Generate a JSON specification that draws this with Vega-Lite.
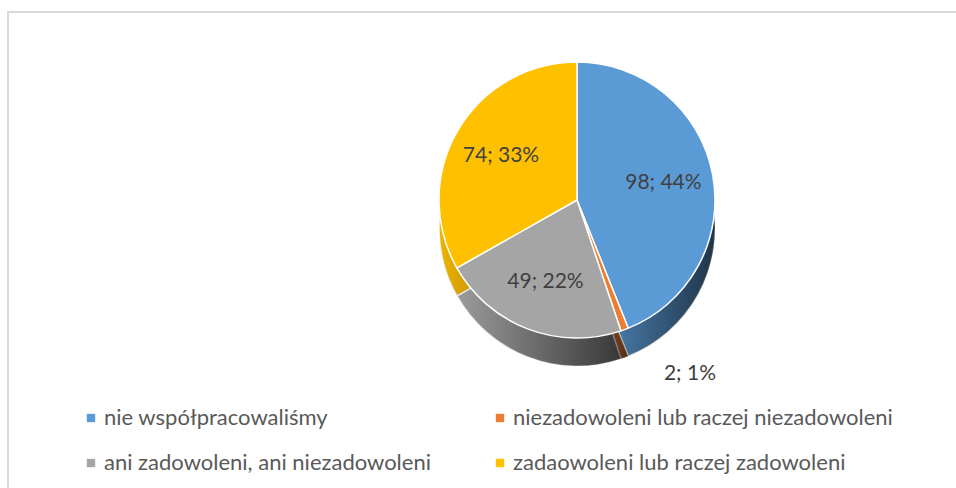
{
  "$schema": "https://vega.github.io/schema/vega-lite/v6.json",
  "width": 948,
  "height": 476,
  "autosize": "none",
  "padding": {"left": 8, "top": 12, "right": 0, "bottom": 0},
  "background": "white",
  "config": {
    "view": {"stroke": null},
    "font": "Lato"
  },
  "data": {
    "values": [
      {"idx": 1, "kategoria": "nie współpracowaliśmy", "liczba": 98, "label": "98; 44%"},
      {"idx": 2, "kategoria": "niezadowoleni lub raczej niezadowoleni", "liczba": 2, "label": "2; 1%"},
      {"idx": 3, "kategoria": "ani zadowoleni, ani niezadowoleni", "liczba": 49, "label": "49; 22%"},
      {"idx": 4, "kategoria": "zadaowoleni lub raczej zadowoleni", "liczba": 74, "label": "74; 33%"}
    ]
  },
  "layer": [
    {
      "data": {"values": [{"ramka": "obramowanie"}]},
      "mark": {"type": "rect", "x": 0, "y": 0, "x2": {"expr": "width + 20"}, "y2": {"expr": "height + 20"}, "fill": null, "stroke": "#D9D9D9", "strokeWidth": 2},
      "encoding": {}
    },
    {
      "encoding": {
        "theta": {"field": "liczba", "type": "quantitative", "stack": true},
        "order": {"field": "idx", "type": "quantitative"},
        "color": {
          "field": "kategoria",
          "type": "nominal",
          "sort": ["nie współpracowaliśmy", "niezadowoleni lub raczej niezadowoleni", "ani zadowoleni, ani niezadowoleni", "zadaowoleni lub raczej zadowoleni"],
          "scale": {
            "domain": ["nie współpracowaliśmy", "niezadowoleni lub raczej niezadowoleni", "ani zadowoleni, ani niezadowoleni", "zadaowoleni lub raczej zadowoleni"],
            "range": ["#5B9BD5", "#ED7D31", "#A5A5A5", "#FFC000"]
          },
          "legend": {
            "title": null,
            "orient": "none",
            "legendX": 72,
            "legendY": 395,
            "columns": 2,
            "direction": "horizontal",
            "padding": 0,
            "symbolType": "square",
            "symbolSize": 70,
            "symbolStrokeWidth": 0,
            "labelFont": "Lato",
            "labelFontSize": 22,
            "labelColor": "#595959",
            "labelLimit": 500,
            "labelOffset": 2,
            "rowPadding": 23,
            "columnPadding": 58
          }
        }
      },
      "layer": [
        {
          "mark": {"type": "arc", "outerRadius": 138, "x": {"expr": "width*0.6002"}, "y": {"expr": "height*0.395"}, "yOffset": 28, "stroke": "white", "strokeWidth": 1.5}
        },
        {
          "mark": {"type": "arc", "outerRadius": 138, "x": {"expr": "width*0.6002"}, "y": {"expr": "height*0.395"}, "yOffset": 28},
          "encoding": {
            "fill": {
              "value": {
                "gradient": "linear",
                "x1": 0, "y1": 0, "x2": 1, "y2": 0,
                "stops": [
                  {"offset": 0, "color": "rgba(0,0,0,0.06)"},
                  {"offset": 1, "color": "rgba(0,0,0,0.66)"}
                ]
              }
            }
          }
        },
        {
          "mark": {"type": "arc", "outerRadius": 138, "x": {"expr": "width*0.6002"}, "y": {"expr": "height*0.395"}, "stroke": "white", "strokeWidth": 1.5}
        },
        {
          "mark": {"type": "text", "radius": 88, "x": {"expr": "width*0.6002"}, "y": {"expr": "height*0.395"}, "fontSize": 21, "font": "Lato", "fill": "#404040"},
          "encoding": {
            "text": {"condition": {"test": "datum.liczba >= 5", "field": "label"}, "value": ""}
          }
        },
        {
          "mark": {"type": "text", "radius": 168, "x": {"expr": "width*0.6002"}, "y": {"expr": "height*0.395"}, "dy": 16, "dx": 55, "fontSize": 21, "font": "Lato", "fill": "#404040"},
          "encoding": {
            "text": {"condition": {"test": "datum.liczba < 5", "field": "label"}, "value": ""}
          }
        }
      ]
    }
  ]
}
